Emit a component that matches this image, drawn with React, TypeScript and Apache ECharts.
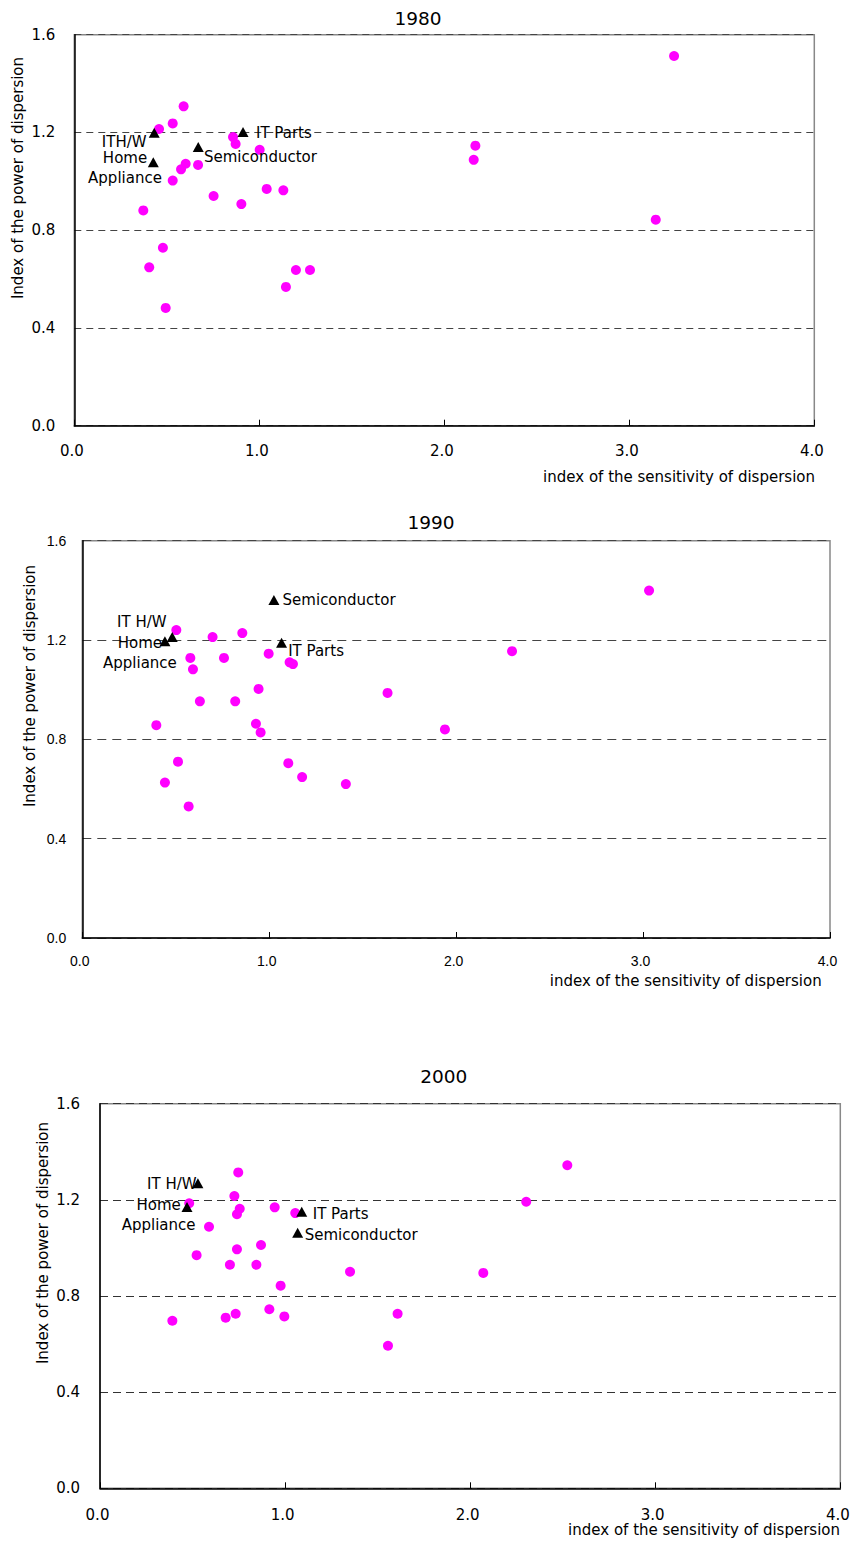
import React, { useEffect, useRef } from "react";
import * as echarts from "echarts";

// ---- data (x: index of the sensitivity of dispersion, y: index of the power of dispersion)
const years = ["1980", "1990", "2000"];

const sectors1980: number[][] = [
  [0.373, 0.881], [0.458, 1.214], [0.532, 1.237], [0.591, 1.307], [0.532, 1.003],
  [0.577, 1.049], [0.602, 1.072], [0.669, 1.067], [0.753, 0.94], [0.858, 1.181],
  [0.872, 1.153], [0.903, 0.907], [1.002, 1.129], [1.04, 0.969], [1.13, 0.963],
  [0.405, 0.648], [0.479, 0.728], [0.494, 0.482], [1.144, 0.568], [1.198, 0.637],
  [1.274, 0.637], [3.242, 1.513], [2.168, 1.146], [2.159, 1.088], [3.143, 0.843],
];
const it1980: number[][] = [[0.432, 1.199], [0.427, 1.078], [0.67, 1.14], [0.912, 1.202]];
const itNames1980 = ["ITH/W", "Home\nAppliance", "Semiconductor", "IT Parts"];

const sectors1990: number[][] = [
  [0.503, 1.24], [0.697, 1.212], [0.856, 1.228], [0.578, 1.128], [0.592, 1.082],
  [0.758, 1.128], [0.997, 1.145], [1.109, 1.11], [1.127, 1.103], [0.943, 1.003],
  [0.629, 0.953], [0.818, 0.953], [0.396, 0.857], [0.929, 0.863], [0.954, 0.828],
  [1.633, 0.987], [0.512, 0.71], [0.442, 0.626], [0.569, 0.53], [1.102, 0.704],
  [1.176, 0.648], [1.41, 0.62], [3.032, 1.399], [2.299, 1.155], [1.94, 0.84],
];
const it1990: number[][] = [[0.481, 1.212], [0.442, 1.195], [1.025, 1.361], [1.066, 1.189]];
const itNames1990 = ["IT H/W", "Home\nAppliance", "Semiconductor", "IT Parts"];

const sectors2000: number[][] = [
  [0.747, 1.314], [0.726, 1.216], [0.482, 1.186], [0.755, 1.163], [0.74, 1.14],
  [0.944, 1.169], [1.055, 1.145], [0.589, 1.088], [0.87, 1.012], [0.74, 0.994],
  [0.522, 0.97], [0.702, 0.93], [0.845, 0.93], [1.351, 0.901], [0.976, 0.843],
  [0.391, 0.697], [0.679, 0.71], [0.733, 0.726], [0.915, 0.745], [0.996, 0.715],
  [1.608, 0.726], [1.556, 0.593], [2.525, 1.344], [2.303, 1.192], [2.071, 0.896],
];
const it2000: number[][] = [[0.529, 1.269], [0.47, 1.17], [1.068, 1.063], [1.09, 1.151]];
const itNames2000 = ["IT H/W", "Home\nAppliance", "Semiconductor", "IT Parts"];

const xAxisName = "index of the sensitivity of dispersion";
const yAxisName = "Index of the power of dispersion";

const sectorsByYear = [sectors1980, sectors1990, sectors2000];
const itByYear = [it1980, it1990, it2000];
const itNamesByYear = [itNames1980, itNames1990, itNames2000];

// ---- layout / style (kept separate from the data)
const FONT = "DejaVu Sans";
const grids = [
  { left: 74.3, top: 34.7, width: 740, height: 391 },
  { left: 82.3, top: 540.7, width: 747.7, height: 397.3 },
  { left: 100, top: 1103.7, width: 740.3, height: 384.6 },
];
const tickStyle = [
  { font: FONT, size: 15, yMargin: 19, xMargin: 18 },
  { font: "Liberation Sans", size: 14, yMargin: 16, xMargin: 16 },
  { font: FONT, size: 15, yMargin: 20, xMargin: 19 },
];
const gridLine = [
  { color: "#444", dash: [7, 5] },
  { color: "#444", dash: [9, 6] },
  { color: "#333", dash: [8, 5] },
];
const titlePos = [[418, 18], [431, 522.7], [443.7, 1076]];
const yNamePos = [[17.7, 178], [30, 686], [43.3, 1243]];
const xNamePos = [[815, 476.7], [821.7, 980.7], [840, 1530]];
// [dx, dy, align] for each IT label, relative to its triangle
const labelLayout: [number, number, string][][] = [
  [[-7.6, 9, "right"], [-28.3, 5.7, "center"], [5.7, 9.7, "left"], [13, 1, "left"]],
  [[-5.6, -15.3, "right"], [-25, 11.7, "center"], [8.7, 0, "left"], [6.6, 8.3, "left"]],
  [[-1.3, 0.7, "right"], [-28.4, 7.5, "center"], [7, 2.3, "left"], [11, 2.3, "left"]],
];

export default function App() {
  const ref = useRef<HTMLDivElement>(null);
  useEffect(() => {
    if (!ref.current) return;
    const chart = echarts.init(ref.current, undefined, { renderer: "svg" });

    const xAxes = grids.map((_, i) => ({
      type: "value",
      gridIndex: i,
      min: 0,
      max: 4,
      interval: 1,
      axisLine: { show: true, onZero: false, lineStyle: { color: "#000", width: 1.5 } },
      axisTick: { show: true, inside: true, length: 6, lineStyle: { color: "#000", width: 1 } },
      splitLine: { show: false },
      axisLabel: {
        margin: tickStyle[i].xMargin,
        color: "#000",
        fontFamily: tickStyle[i].font,
        fontSize: tickStyle[i].size,
        padding: [0, 5, 0, 0],
        formatter: (v: number) => v.toFixed(1),
      },
    }));
    const yAxes = grids.map((_, i) => ({
      type: "value",
      gridIndex: i,
      min: 0,
      max: 1.6,
      interval: 0.4,
      axisLine: { show: true, onZero: false, lineStyle: { color: "#000", width: 1.5 } },
      axisTick: { show: false },
      splitLine: {
        show: true,
        lineStyle: { color: gridLine[i].color, type: gridLine[i].dash, width: 1 },
      },
      axisLabel: {
        margin: tickStyle[i].yMargin,
        color: "#000",
        fontFamily: tickStyle[i].font,
        fontSize: tickStyle[i].size,
        formatter: (v: number) => v.toFixed(1),
      },
    }));

    const series: any[] = [];
    years.forEach((_, i) => {
      series.push({
        type: "scatter",
        xAxisIndex: i,
        yAxisIndex: i,
        symbol: "circle",
        symbolSize: 10,
        itemStyle: { color: "#FF00FF", opacity: 1 },
        data: sectorsByYear[i],
        z: 3,
      });
      series.push({
        type: "scatter",
        xAxisIndex: i,
        yAxisIndex: i,
        symbol: "triangle",
        symbolSize: [11, 10],
        itemStyle: { color: "#000", opacity: 1 },
        z: 4,
        data: itByYear[i].map((p, k) => ({
          name: itNamesByYear[i][k],
          value: p,
          label: {
            show: true,
            position: "inside",
            formatter: itNamesByYear[i][k],
            align: labelLayout[i][k][2],
            verticalAlign: "middle",
            offset: [labelLayout[i][k][0], labelLayout[i][k][1]],
            color: "#000",
            fontFamily: FONT,
            fontSize: 15,
            lineHeight: 20,
          },
        })),
      });
    });

    const graphic: any[] = [];
    years.forEach((y, i) => {
      graphic.push({
        type: "text",
        x: titlePos[i][0],
        y: titlePos[i][1],
        style: { text: y, font: `18.5px '${FONT}'`, fill: "#000", textAlign: "center", textVerticalAlign: "middle" },
      });
      graphic.push({
        type: "text",
        x: yNamePos[i][0],
        y: yNamePos[i][1],
        rotation: Math.PI / 2,
        style: { text: yAxisName, font: `15px '${FONT}'`, fill: "#000", textAlign: "center", textVerticalAlign: "middle" },
      });
      graphic.push({
        type: "text",
        x: xNamePos[i][0],
        y: xNamePos[i][1],
        style: { text: xAxisName, font: `15px '${FONT}'`, fill: "#000", textAlign: "right", textVerticalAlign: "middle" },
      });
    });

    chart.setOption({
      animation: false,
      backgroundColor: "#fff",
      grid: grids.map((g) => ({
        ...g,
        show: true,
        borderColor: "#888",
        borderWidth: 1.5,
        backgroundColor: "transparent",
        containLabel: false,
      })),
      xAxis: xAxes,
      yAxis: yAxes,
      series,
      graphic,
    });
    return () => chart.dispose();
  }, []);

  return (
    <div
      ref={ref}
      style={{ position: "absolute", left: 0, top: 0, width: 854, height: 1543 }}
    />
  );
}
